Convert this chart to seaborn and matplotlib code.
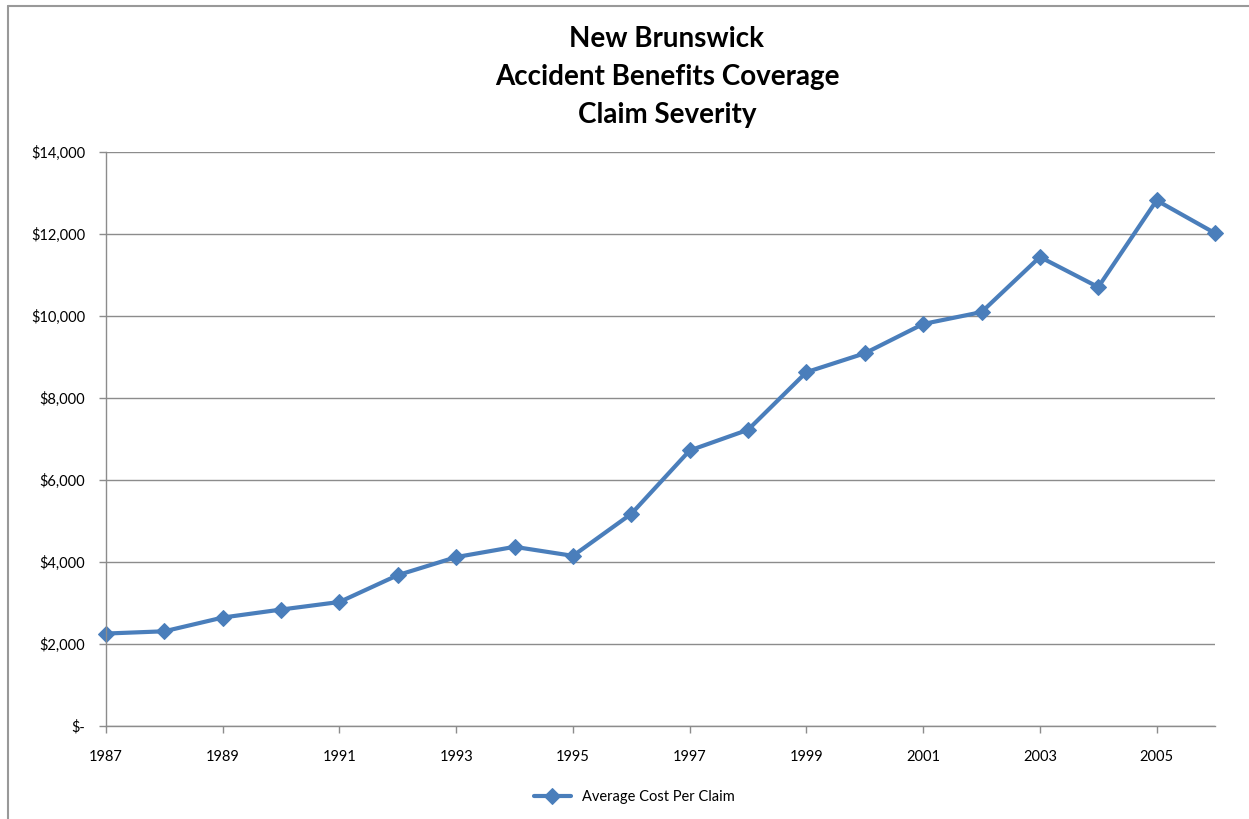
import numpy as np
import pandas as pd
import seaborn as sns
import matplotlib
matplotlib.use("Agg")
import matplotlib.pyplot as plt
import matplotlib.ticker as ticker
from matplotlib.lines import Line2D

# --------------------------------------------------------------------------
# Data
# --------------------------------------------------------------------------
years = list(range(1987, 2007))
avg_cost = [2255, 2310, 2645, 2840, 3025, 3680, 4120, 4370, 4150, 5175,
            6720, 7225, 8630, 9090, 9805, 10095, 11440, 10705, 12820, 12020]
year_ticks = list(range(1987, 2007, 2))
series_name = "Average Cost Per Claim"
title_lines = ["New Brunswick", "Accident Benefits Coverage", "Claim Severity"]

BLUE = "#4A7EBB"
GRID = "#8C8C8C"

df = pd.DataFrame({"year": years, "cost": avg_cost, "series": series_name})

# --------------------------------------------------------------------------
# Style
# --------------------------------------------------------------------------
sns.set_style("white")
plt.rcParams["font.family"] = ["Lato", "DejaVu Sans"]
plt.rcParams["text.color"] = "black"

fig = plt.figure(figsize=(12.49, 8.19), dpi=100)
ax = fig.add_axes([106 / 1249, 1 - 726 / 819, (1215 - 106) / 1249, (726 - 152) / 819])

sns.lineplot(df, x="year", y="cost", hue="series", palette=[BLUE],
             marker="D", markersize=8, markeredgecolor=BLUE, linewidth=3,
             clip_on=False, ax=ax)

ax.set_xlim(1987, 2006)
ax.set_ylim(0, 14000)
ax.xaxis.set_major_locator(ticker.FixedLocator(year_ticks))
ax.yaxis.set_major_locator(ticker.MultipleLocator(2000))
ax.yaxis.set_major_formatter(ticker.FuncFormatter(
    lambda v, pos: "$-" if v == 0 else f"${v:,.0f}"))

ax.grid(True, axis="y", color=GRID, linewidth=1)
ax.set_axisbelow(True)
for side in ["top", "right"]:
    ax.spines[side].set_visible(False)
for side in ["left", "bottom"]:
    ax.spines[side].set_color(GRID)
    ax.spines[side].set_linewidth(1)

ax.tick_params(axis="both", length=5, width=1, color=GRID, labelsize=10.5,
               labelcolor="black", direction="out", left=True, bottom=True)
ax.tick_params(axis="y", pad=10)
ax.tick_params(axis="x", pad=12)
ax.set_xlabel("")
ax.set_ylabel("")

fig.text(0.534, 1 - 77 / 819, "\n".join(title_lines), ha="center", va="center",
         fontsize=20, fontweight="bold", linespacing=1.55, color="black")

handles, labels = ax.get_legend_handles_labels()
ax.get_legend().remove()
fig.legend(handles, labels, loc="center", bbox_to_anchor=(0.508, 1 - 797 / 819),
           frameon=False, fontsize=10.5, handlelength=2.5, labelcolor="black")

# chart frame
fig.add_artist(Line2D([8 / 1249, 1], [1 - 6 / 819, 1 - 6 / 819],
                      transform=fig.transFigure, color="#999999", linewidth=1.5))
fig.add_artist(Line2D([8 / 1249, 8 / 1249], [0, 1 - 6 / 819],
                      transform=fig.transFigure, color="#999999", linewidth=1.5))

fig.savefig("out.png", dpi=100)
